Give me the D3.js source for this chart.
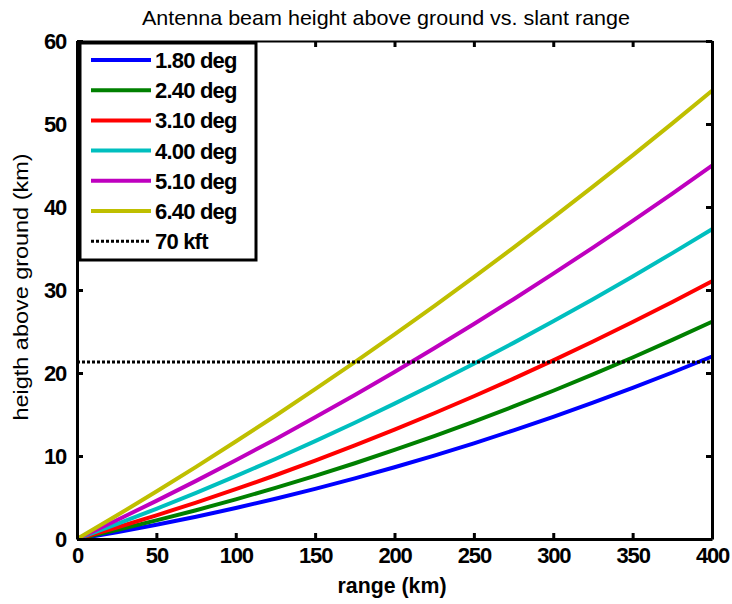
<!DOCTYPE html>
<html><head><meta charset="utf-8">
<script src="https://cdn.jsdelivr.net/npm/d3@7"></script>
<style>body{margin:0;background:#fff}svg{display:block}</style>
</head><body>
<script>
const ranges = [0,25,50,75,100,125,150,175,200,225,250,275,300,325,350,375,400];
const h180 = [0,0.82,1.72,2.69,3.73,4.85,6.04,7.30,8.64,10.05,11.53,13.09,14.72,16.43,18.20,20.06,21.99];
const h240 = [0,1.08,2.24,3.47,4.78,6.16,7.61,9.13,10.73,12.40,14.15,15.97,17.86,19.83,21.87,23.99,26.17];
const h310 = [0,1.39,2.85,4.39,6.00,7.68,9.44,11.27,13.17,15.15,17.20,19.32,21.52,23.80,26.14,28.56,31.05];
const h400 = [0,1.78,3.64,5.56,7.57,9.64,11.79,14.01,16.31,18.68,21.12,23.63,26.23,28.89,31.63,34.44,37.32];
const h510 = [0,2.26,4.59,7.00,9.48,12.03,14.66,17.36,20.13,22.98,25.90,28.89,31.97,35.11,38.32,41.61,44.98];
const h640 = [0,2.82,5.72,8.69,11.74,14.85,18.05,21.31,24.65,28.06,31.55,35.10,38.74,42.45,46.22,50.08,54.01];
const seriesNames = ["1.80 deg","2.40 deg","3.10 deg","4.00 deg","5.10 deg","6.40 deg"];
const seriesColors = ["#0000ff","#008000","#ff0000","#00bfbf","#bf00bf","#bfbf00"];
const seriesValues = [h180,h240,h310,h400,h510,h640];
const limitName = "70 kft";
const limitValue = 21.336;
const xTicks = [0,50,100,150,200,250,300,350,400];
const yTicks = [0,10,20,30,40,50,60];

const W=732,H=604;
const L=77,R=712,T=41,B=539;
const svg=d3.select("body").append("svg").attr("width",W).attr("height",H);
const x=d3.scaleLinear().domain([0,400]).range([L,R]);
const y=d3.scaleLinear().domain([0,60]).range([B,T]);
const font="'Liberation Sans',Arial,Helvetica,sans-serif";

// curves
const line=d3.line().x((d,i)=>x(ranges[i])).y(d=>y(d));
seriesValues.forEach((v,k)=>{
  svg.append("path").datum(v).attr("d",line).attr("fill","none")
    .attr("stroke",seriesColors[k]).attr("stroke-width",4).attr("stroke-linejoin","round");
});
svg.append("line").attr("x1",x(0)).attr("x2",x(400)).attr("y1",y(limitValue)).attr("y2",y(limitValue))
  .attr("stroke","#000").attr("stroke-width",3).attr("stroke-dasharray","3,2");

// axes
const tickLen=-6;
const gB=svg.append("g").attr("transform",`translate(0,${B})`).call(d3.axisBottom(x).tickValues(xTicks).tickSizeInner(tickLen).tickSizeOuter(0).tickPadding(14));
const gL=svg.append("g").attr("transform",`translate(${L},0)`).call(d3.axisLeft(y).tickValues(yTicks).tickSizeInner(tickLen).tickSizeOuter(0).tickPadding(11));
const gT=svg.append("g").attr("transform",`translate(0,${T})`).call(d3.axisTop(x).tickValues(xTicks).tickSizeInner(tickLen).tickSizeOuter(0).tickFormat(""));
const gR=svg.append("g").attr("transform",`translate(${R},0)`).call(d3.axisRight(y).tickValues(yTicks).tickSizeInner(tickLen).tickSizeOuter(0).tickFormat(""));
[gB,gL,gT,gR].forEach(g=>{
  g.select(".domain").attr("stroke","#000").attr("stroke-width",3);
  g.selectAll(".tick line").attr("stroke","#000").attr("stroke-width",3);
  g.selectAll(".tick text").attr("fill","#000").style("font-family",font).style("font-size","22px")
   .style("font-weight","bold").style("letter-spacing","-1.2px");
});
gT.select(".domain").attr("stroke-width",2);
gB.selectAll(".tick text").attr("dy","0.45em");

// title and labels
svg.append("text").attr("x",386).attr("y",25).attr("text-anchor","middle")
  .attr("textLength",488).attr("lengthAdjust","spacingAndGlyphs")
  .style("font-family",font).style("font-size","21px").text("Antenna beam height above ground vs. slant range");
svg.append("text").attr("x",392).attr("y",593).attr("text-anchor","middle")
  .attr("textLength",109).attr("lengthAdjust","spacingAndGlyphs")
  .style("font-family",font).style("font-size","22px").style("font-weight","bold").text("range (km)");
svg.append("text").attr("transform",`translate(28,287) rotate(-90)`).attr("text-anchor","middle")
  .attr("textLength",267).attr("lengthAdjust","spacingAndGlyphs")
  .style("font-family",font).style("font-size","21px").text("heigth above ground (km)");

// legend
const lg=svg.append("g");
lg.append("rect").attr("x",80).attr("y",43).attr("width",176).attr("height",217)
  .attr("fill","#fff").attr("stroke","#000").attr("stroke-width",3);
const items=seriesNames.map((n,i)=>({n,c:seriesColors[i],dash:null})).concat([{n:limitName,c:"#000",dash:"3,2"}]);
items.forEach((it,i)=>{
  const yy=60+i*30.2;
  lg.append("line").attr("x1",91).attr("x2",151).attr("y1",yy).attr("y2",yy)
    .attr("stroke",it.c).attr("stroke-width",it.dash?3:4).attr("stroke-dasharray",it.dash);
  lg.append("text").attr("x",155).attr("y",yy).attr("dy","0.36em")
    .style("font-family",font).style("font-size","22px").style("font-weight","bold").style("letter-spacing","-0.8px").text(it.n);
});
</script>
</body></html>
